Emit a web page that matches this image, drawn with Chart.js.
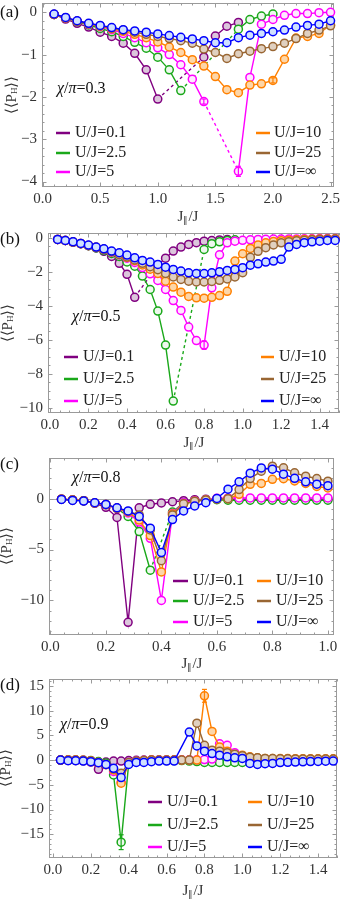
<!DOCTYPE html>
<html>
<head>
<meta charset="utf-8">
<script src="https://cdn.jsdelivr.net/npm/chart.js@4.4.1/dist/chart.umd.min.js"></script>
<style>
  body { margin: 0; background: #fff; }
  .panel { position: absolute; left: 0; width: 341px; }
</style>
</head>
<body>
<script>
const FONT = "'Liberation Serif', 'Times New Roman', serif";
Chart.defaults.font.family = FONT;

const seriesNames = ['U/J=0.1', 'U/J=2.5', 'U/J=5', 'U/J=10', 'U/J=25', 'U/J=\u221E'];
const seriesColors = ['#800080', '#1aa81a', '#ff00ff', '#ff8000', '#996633', '#0000ff'];
const fillColors = ['#dcc6dc', '#eef8ee', '#ffe8ff', '#fdd6a8', '#e0d0c0', '#cfe0ff'];

// (a) chi/pi = 0.3
const xA = [0.1,0.2,0.3,0.4,0.5,0.6,0.7,0.8,0.9,1.0,1.1,1.2,1.3,1.4,1.5,1.6,1.7,1.8,1.9,2.0,2.1,2.2,2.3,2.4,2.5];
const purpleA = [-0.05,-0.16,-0.26,-0.35,-0.47,-0.57,-0.73,-0.97,-1.36,-2.05,null,null,null,-1.06,-0.56,-0.33,-0.24,null,null,null,null,null,null,null,null];
const greenA = [-0.05,-0.13,-0.22,-0.3,-0.38,-0.46,-0.57,-0.71,-0.85,-1.06,-1.36,-1.85,null,null,null,null,-0.4,-0.17,-0.09,-0.04,null,null,null,null,null];
const pinkA = [-0.05,-0.13,-0.21,-0.28,-0.34,-0.41,-0.5,-0.6,-0.72,-0.84,-1.0,-1.24,-1.58,-2.11,null,null,-3.76,-1.54,-0.28,-0.17,-0.07,-0.03,-0.03,-0.01,0.0];
const orangeA = [-0.05,-0.13,-0.21,-0.27,-0.33,-0.39,-0.45,-0.52,-0.6,-0.7,-0.82,-0.95,-1.12,-1.27,-1.52,-1.83,-1.9,-1.72,-1.69,-1.61,-1.11,-0.61,-0.57,-0.5,-0.3];
const brownA = [-0.05,-0.13,-0.21,-0.27,-0.32,-0.37,-0.42,-0.47,-0.52,-0.57,-0.62,-0.67,-0.73,-0.87,-0.95,-1.09,-0.98,-0.92,-0.86,-0.81,-0.73,-0.62,-0.5,-0.42,-0.32];
const blueA = [-0.04,-0.12,-0.2,-0.26,-0.31,-0.36,-0.41,-0.44,-0.47,-0.51,-0.55,-0.59,-0.63,-0.67,-0.72,-0.72,-0.6,-0.54,-0.5,-0.46,-0.42,-0.35,-0.31,-0.28,-0.2];
const errA = [[2, 16, 0.12], [2, 13, 0.06], [3, 19, 0.06]]; // [series, point, half length]

// (b) chi/pi = 0.5
const xB = [0.04,0.08,0.12,0.16,0.2,0.24,0.28,0.32,0.36,0.4,0.44,0.48,0.52,0.56,0.6,0.64,0.68,0.72,0.76,0.8,0.84,0.88,0.92,0.96,1.0,1.04,1.08,1.12,1.16,1.2,1.24,1.28,1.32,1.36,1.4,1.44,1.48];
const purpleB = [-0.1,-0.16,-0.25,-0.35,-0.47,-0.6,-0.8,-1.1,-1.5,-2.15,-3.5,null,null,-1.6,-1.2,-0.78,-0.55,-0.39,-0.29,-0.2,-0.16,-0.13,-0.1,null,null,null,null,null,null,null,null,null,null,null,null,null,null];
const greenB = [-0.1,-0.16,-0.25,-0.35,-0.47,-0.6,-0.75,-0.92,-1.1,-1.42,-1.67,-2.25,-3.04,-4.31,-6.31,-9.6,null,null,null,-0.69,-0.35,-0.24,-0.16,-0.12,null,null,null,null,null,null,null,null,null,null,null,null,null];
const pinkB = [-0.1,-0.16,-0.25,-0.34,-0.45,-0.57,-0.7,-0.85,-1.0,-1.2,-1.45,-1.75,-2.12,-2.51,-3.04,-3.69,-4.27,-5.25,-6.04,-6.31,-2.94,-1.0,-0.3,-0.2,-0.15,-0.12,-0.1,-0.09,-0.08,-0.08,-0.07,-0.07,-0.06,-0.06,-0.05,-0.05,-0.05];
const orangeB = [-0.1,-0.16,-0.25,-0.34,-0.45,-0.56,-0.68,-0.82,-0.98,-1.15,-1.35,-1.6,-1.85,-2.1,-2.55,-2.9,-3.2,-3.45,-3.53,-3.55,-3.5,-3.4,-3.15,-1.37,-0.94,-0.63,-0.42,-0.3,-0.22,-0.17,-0.14,-0.12,-0.1,-0.09,-0.08,-0.07,-0.06];
const brownB = [-0.1,-0.16,-0.25,-0.34,-0.45,-0.56,-0.68,-0.82,-0.98,-1.13,-1.3,-1.5,-1.7,-1.88,-2.1,-2.3,-2.45,-2.55,-2.6,-2.6,-2.57,-2.5,-2.42,-2.3,-2.05,-1.15,-0.8,-0.58,-0.42,-0.3,-0.23,-0.18,-0.15,-0.12,-0.1,-0.09,-0.08];
const blueB = [-0.1,-0.16,-0.24,-0.33,-0.43,-0.55,-0.65,-0.78,-0.88,-1.02,-1.18,-1.33,-1.43,-1.57,-1.73,-1.86,-1.96,-2.06,-2.1,-2.1,-2.06,-2.0,-1.92,-1.86,-1.76,-1.61,-1.53,-1.43,-1.37,-1.27,-0.55,-0.39,-0.29,-0.24,-0.2,-0.16,-0.16];
const errB = [[2, 19, 0.25]];

// (c) chi/pi = 0.8
const xC = [0.04,0.08,0.12,0.16,0.2,0.24,0.28,0.32,0.36,0.4,0.44,0.48,0.52,0.56,0.6,0.64,0.68,0.72,0.76,0.8,0.84,0.88,0.92,0.96,1.0];
const purpleC = [-0.05,-0.12,-0.2,-0.45,-0.85,-1.85,-12.15,-0.9,-0.55,-0.42,-0.3,-0.2,-0.1,-0.05,-0.05,-0.05,-0.05,-0.05,-0.05,-0.05,-0.05,-0.05,-0.05,-0.05,-0.05];
const greenC = [-0.05,-0.12,-0.2,-0.42,-0.58,-0.95,-1.75,-3.23,-7.03,null,-1.32,-0.4,-0.2,-0.1,-0.1,-0.15,-0.15,-0.15,-0.15,-0.15,-0.15,-0.15,-0.15,-0.15,-0.15];
const pinkC = [-0.05,-0.12,-0.2,-0.42,-0.58,-0.95,-1.4,-2.3,-3.9,-10.0,-1.45,-0.4,-0.2,-0.1,0.05,0.07,0.07,0.07,0.07,0.07,0.08,0.08,0.08,0.08,0.07];
const orangeC = [-0.05,-0.12,-0.2,-0.42,-0.58,-0.95,-1.3,-2.1,-3.63,-7.2,-1.5,-0.5,-0.25,-0.12,-0.02,0.0,0.43,1.41,1.5,1.9,1.97,1.74,1.5,1.2,1.05];
const brownC = [-0.05,-0.12,-0.2,-0.42,-0.58,-0.92,-1.25,-1.6,-3.07,-6.1,-1.6,-0.5,-0.25,-0.12,-0.05,0.0,0.9,1.98,2.7,3.2,3.04,2.54,2.21,1.98,1.72];
const blueC = [-0.07,-0.17,-0.23,-0.4,-0.56,-0.9,-1.2,-1.76,-2.9,-5.3,-2.05,-1.2,-0.72,-0.4,0.02,0.94,1.66,2.51,3.02,2.9,2.41,2.0,1.66,1.43,1.28];
const errC = [];

// (d) chi/pi = 0.9
const xD = [0.04,0.08,0.12,0.16,0.2,0.24,0.28,0.32,0.36,0.4,0.44,0.48,0.52,0.56,0.6,0.64,0.68,0.72,0.76,0.8,0.84,0.88,0.92,0.96,1.0,1.04,1.08,1.12,1.16,1.2,1.24,1.28,1.32,1.36,1.4,1.44,1.48];
const purpleD = [0,0,-0.1,-0.15,-0.4,-1.87,-0.4,-0.2,-0.2,-0.1,-0.05,0,0,0,0,0,null,null,null,null,null,null,null,null,null,null,null,null,null,null,null,null,null,null,null,null,null];
const greenD = [0,0,0,-0.05,-0.1,-0.3,-0.6,-3.0,-16.6,-0.67,-0.3,-0.2,-0.1,-0.1,-0.1,-0.1,-0.1,-0.2,-0.3,-0.47,-0.47,-0.47,-0.47,-0.47,-0.47,null,null,null,null,null,null,null,null,null,null,null,null];
const pinkD = [0,0,0,-0.05,-0.15,-0.5,-0.9,-2.3,-4.5,-0.5,-0.2,-0.1,0,0,0,0,0.05,0.05,0.05,0.1,0.2,3.3,3.0,1.5,0.9,0.5,null,null,null,null,null,null,null,null,null,null,null];
const orangeD = [0,0,0,-0.05,-0.15,-0.5,-0.9,-2.0,-4.67,-0.67,-0.3,-0.1,0,0,0,0,0,0,0,13.0,5.8,2.67,1.8,1.13,1.0,0.67,0.47,0.33,0.3,0.3,0.3,0.28,0.28,0.26,0.26,0.25,0.25];
const brownD = [0,0,0,-0.05,-0.15,-0.5,-0.9,-1.8,-2.67,-0.5,-0.2,-0.1,0,0,0,0,0,0,7.47,3.0,2.0,1.8,1.5,1.2,0.9,0.6,0.45,0.33,0.3,0.25,0.25,0.22,0.2,0.2,0.2,0.2,0.2];
const blueD = [0,-0.13,-0.13,-0.2,-0.33,-0.53,-0.87,-1.67,-3.53,-0.87,-0.47,-0.47,-0.33,-0.2,-0.2,-0.2,null,5.67,2.87,1.8,1.33,1.0,0.67,0.47,0.33,-0.67,-0.87,-0.73,-0.67,-0.5,-0.45,-0.4,-0.35,-0.3,-0.27,-0.23,-0.2];
const errD = [[1, 8, 1.5], [3, 19, 1.3]];

// layout of the four panels (page pixels)
const panels = [
  { tag: '(a)', chi: '0.3', top: 0, h: 228, area: [42, 3, 334, 187],
    xr: [-0.005, 2.53, 0.5, 0.1], yr: [-4.13, 0.22, 1, 0.2], zero: false,
    x: xA, ys: [purpleA, greenA, pinkA, orangeA, brownA, blueA], err: errA, solidGap: -1,
    lab: 13, chiAt: [57, 89], rows: [133, 153, 172], leg: [56, 70, 75, 256, 270, 274], xt: [188, 217], yt: [12, 95] },
  { tag: '(b)', chi: '0.5', top: 228, h: 222, area: [48, 233, 339, 413],
    xr: [-0.01, 1.5, 0.2, 0.05], yr: [-10.3, 0.28, 2, 0.5], zero: false,
    x: xB, ys: [purpleB, greenB, pinkB, orangeB, brownB, blueB], err: errB, solidGap: -1,
    lab: 240, chiAt: [72, 317], rows: [357, 379, 401], leg: [64, 78, 83, 261, 274, 279], xt: [194, 443], yt: [8, 323] },
  { tag: '(c)', chi: '0.8', top: 450, h: 222, area: [49, 458, 334, 635],
    xr: [-0.005, 1.022, 0.2, 0.05], yr: [-13.4, 4.0, 5, 1], zero: true,
    x: xC, ys: [purpleC, greenC, pinkC, orangeC, brownC, blueC], err: errC, solidGap: -1,
    lab: 465, chiAt: [72, 478], rows: [581, 601, 622], leg: [173, 188, 193, 257, 271, 276], xt: [192, 664], yt: [7, 546] },
  { tag: '(d)', chi: '0.9', top: 672, h: 229, area: [49, 679, 337, 858],
    xr: [-0.021, 1.5, 0.2, 0.05], yr: [-19.8, 16.4, 5, 1], zero: true,
    x: xD, ys: [purpleD, greenD, pinkD, orangeD, brownD, blueD], err: errD, solidGap: 5,
    lab: 686, chiAt: [60, 725], rows: [802, 825, 847], leg: [148, 162, 167, 248, 262, 267], xt: [193, 891], yt: [6, 768] }
];

function drawRuns(ctx, list, x, y, align) {
  let w = 0;
  list.forEach(r => { ctx.font = r.f; r.w = ctx.measureText(r.t).width; w += r.w; });
  let cx = align === 'center' ? x - w / 2 : x;
  list.forEach(r => { ctx.font = r.f; ctx.fillText(r.t, cx, y + (r.dy || 0)); cx += r.w; });
}

function seg(ctx, x1, y1, x2, y2) {
  ctx.beginPath(); ctx.moveTo(x1, y1); ctx.lineTo(x2, y2); ctx.stroke();
}

function frameTicks(ctx, scale, minor, horizontal, a) {
  const major = scale.ticks.map(t => t.value);
  const lo = Math.ceil(scale.min / minor - 1e-9), hi = Math.floor(scale.max / minor + 1e-9);
  for (let k = lo; k <= hi; k++) {
    const v = k * minor;
    const len = major.some(m => Math.abs(m - v) < minor / 10) ? 4.5 : 2.5;
    const pix = Math.round(scale.getPixelForValue(v)) + 0.5;
    if (horizontal) { seg(ctx, pix, a.bottom, pix, a.bottom - len); seg(ctx, pix, a.top, pix, a.top + len); }
    else { seg(ctx, a.left, pix, a.left + len, pix); seg(ctx, a.right, pix, a.right - len, pix); }
  }
}

function deco(p) {
  return {
    id: 'deco',
    beforeDatasetsDraw(chart) {
      const { ctx, chartArea: a, scales: { x, y } } = chart;
      ctx.save();
      ctx.lineWidth = 1;
      if (p.zero) {
        ctx.strokeStyle = '#a8a8a8';
        const y0 = Math.round(y.getPixelForValue(0)) + 0.5;
        seg(ctx, a.left, y0, a.right, y0);
      }
      ctx.strokeStyle = '#9a9a9a';
      ctx.strokeRect(a.left + 0.5, a.top + 0.5, a.width - 1, a.height - 1);
      frameTicks(ctx, x, p.xr[3], true, a);
      frameTicks(ctx, y, p.yr[3], false, a);
      ctx.restore();
    },
    afterDatasetsDraw(chart) {
      const { ctx, scales: { x, y } } = chart;
      ctx.save();
      ctx.lineWidth = 1.2;
      p.err.forEach(([s, i, e]) => {
        const xp = x.getPixelForValue(p.x[i]);
        const y1 = y.getPixelForValue(p.ys[s][i] + e), y2 = y.getPixelForValue(p.ys[s][i] - e);
        ctx.strokeStyle = seriesColors[s];
        seg(ctx, xp, y1, xp, y2);
        seg(ctx, xp - 2.5, y1, xp + 2.5, y1);
        seg(ctx, xp - 2.5, y2, xp + 2.5, y2);
      });
      ctx.restore();
    },
    afterDraw(chart) {
      const ctx = chart.ctx;
      const off = p.top;
      ctx.save();
      ctx.textBaseline = 'middle';
      ctx.textAlign = 'left';
      ctx.fillStyle = '#111';
      // panel tag
      ctx.font = '17px ' + FONT;
      ctx.fillText(p.tag, 0, p.lab - off);
      // chi/pi label
      drawRuns(ctx, [
        { t: '\u03C7', f: 'italic 16px ' + FONT },
        { t: '/', f: '16px ' + FONT },
        { t: '\u03C0', f: 'italic 16px ' + FONT },
        { t: '=' + p.chi, f: '16px ' + FONT }
      ], p.chiAt[0], p.chiAt[1] - off, 'left');
      // axis titles
      ctx.fillStyle = '#333';
      drawRuns(ctx, [
        { t: 'J', f: '15px ' + FONT },
        { t: '\u2225', f: '9px ' + FONT, dy: 4 },
        { t: '/J', f: '15px ' + FONT }
      ], p.xt[0], p.xt[1] - off, 'center');
      ctx.save();
      ctx.translate(p.yt[0], p.yt[1] - off);
      ctx.rotate(-Math.PI / 2);
      drawRuns(ctx, [
        { t: '\u27E8\u27E8P', f: '15px ' + FONT },
        { t: 'H', f: '9px ' + FONT, dy: 3 },
        { t: '\u27E9\u27E9', f: '15px ' + FONT }
      ], 0, 0, 'center');
      ctx.restore();
      // legend in two columns
      ctx.font = '16px ' + FONT;
      seriesNames.forEach((name, s) => {
        const col = s < 3 ? 0 : 3;
        const ry = p.rows[s % 3] - off;
        ctx.strokeStyle = seriesColors[s];
        ctx.lineWidth = 2.5;
        seg(ctx, p.leg[col], ry, p.leg[col + 1], ry);
        ctx.fillStyle = '#222';
        ctx.fillText(name, p.leg[col + 2], ry);
      });
      ctx.restore();
    }
  };
}

const minus = v => (v < 0 ? '\u2212' + Math.abs(v) : String(v));

panels.forEach(p => {
  const div = document.createElement('div');
  div.className = 'panel';
  div.style.top = p.top + 'px';
  div.style.height = p.h + 'px';
  const cv = document.createElement('canvas');
  div.appendChild(cv);
  document.body.appendChild(div);
  const [l, t, r, b] = p.area;
  const axisH = p.h - (b - p.top);

  const datasets = p.ys.map((ys, s) => ({
    label: seriesNames[s],
    data: p.x.map((xv, i) => ({ x: xv, y: ys[i] })),
    borderColor: seriesColors[s],
    backgroundColor: fillColors[s],
    pointBackgroundColor: fillColors[s],
    pointBorderColor: seriesColors[s],
    pointRadius: 4,
    pointBorderWidth: 1.5,
    borderWidth: 1.4,
    order: 6 - s,
    spanGaps: true,
    clip: false,
    segment: {
      borderDash: ctx => ((ctx.p0.skip || ctx.p1.skip) && p.solidGap !== s ? [3, 3] : undefined)
    }
  }));

  new Chart(cv, {
    type: 'line',
    data: { datasets },
    options: {
      responsive: true,
      maintainAspectRatio: false,
      animation: false,
      events: [],
      layout: { autoPadding: false, padding: { left: 0, top: t - p.top, right: 341 - r, bottom: 0 } },
      plugins: { legend: { display: false }, tooltip: { enabled: false } },
      scales: {
        x: {
          type: 'linear', min: p.xr[0], max: p.xr[1],
          grid: { display: false, drawTicks: false }, border: { display: false },
          ticks: {
            stepSize: p.xr[2], includeBounds: false, autoSkip: false, maxRotation: 0,
            padding: 3, color: '#333', font: { size: 15 },
            callback: v => v.toFixed(1)
          },
          afterFit: s => { s.height = axisH; s.paddingLeft = 0; s.paddingRight = 0; }
        },
        y: {
          type: 'linear', min: p.yr[0], max: p.yr[1],
          grid: { display: false, drawTicks: false }, border: { display: false },
          ticks: {
            stepSize: p.yr[2], includeBounds: false, autoSkip: false,
            padding: 5, color: '#333', font: { size: 15 },
            callback: v => minus(v)
          },
          afterFit: s => { s.width = l; s.paddingTop = 0; s.paddingBottom = 0; }
        }
      }
    },
    plugins: [deco(p)]
  });
});
</script>
</body>
</html>
